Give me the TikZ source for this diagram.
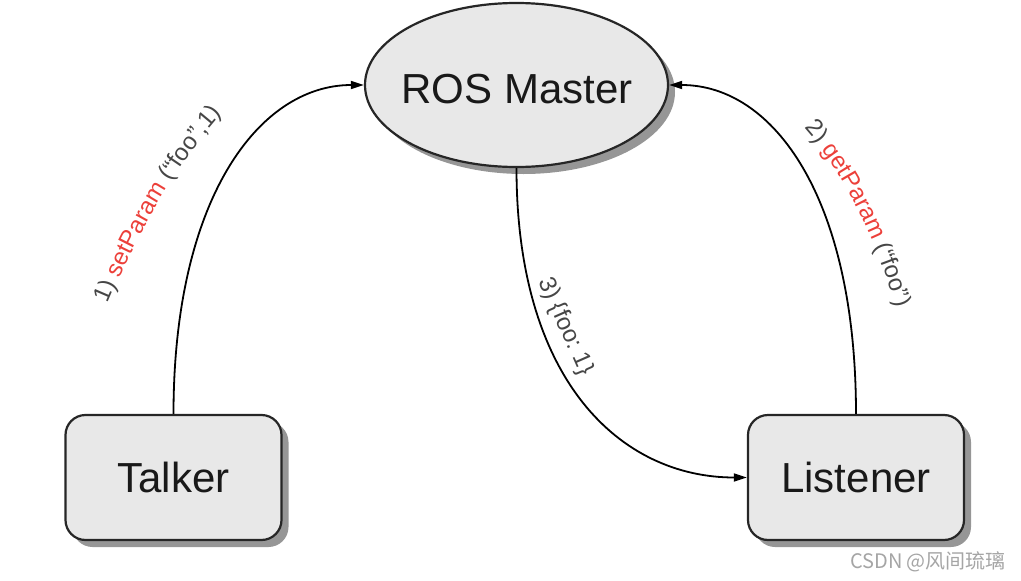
\documentclass[tikz,border=0pt]{standalone}
\usepackage{fontspec}
\setmainfont{Liberation Sans}
\newfontfamily\cjk{Noto Sans CJK SC}
\usetikzlibrary{shapes.geometric,shadows,arrows.meta,decorations.text}
\definecolor{boxfill}{RGB}{232,232,232}
\definecolor{labred}{RGB}{236,64,58}
\definecolor{labgray}{RGB}{70,70,70}
\definecolor{wmark}{RGB}{165,165,165}
\newcommand\labfont{\fontsize{24}{28}\selectfont}
\begin{document}
\begin{tikzpicture}[x=1pt,y=-1pt,
  shapebase/.style={draw=black!85, line width=2.2pt, fill=boxfill,
    drop shadow={shadow xshift=7pt, shadow yshift=-7pt, fill=black!55, opacity=0.75}},
  bigtext/.style={font=\fontsize{42}{48}\selectfont, text=black!90},
  mastershape/.style={shapebase, ellipse, minimum width=303pt, minimum height=164pt, inner sep=0pt},
  procbox/.style={shapebase, bigtext, rectangle, rounded corners=20pt, minimum width=216pt, minimum height=125pt},
  conn/.style={draw=black, line width=1.8pt, -{Triangle[length=13pt,width=8pt]}},
  textpath/.style={decorate, decoration={text along path, text align=left, text={#1}}}]
\useasboundingbox (0,0) rectangle (1021,581);

\node[mastershape] (master) at (516.5,85) {};
\node[bigtext] (mastertext) at (517,89) {ROS Master};
\node[procbox] (talker) at (173.5,477.5) {Talker};
\node[procbox] (listener) at (856,477.5) {Listener};

\draw[conn] (talker.north) .. controls +(0,-215) and +(-105,0) .. (master.west);
\draw[conn] (listener.north) .. controls +(0,-215) and +(105,0) .. (master.east);
\draw[conn] (master.south) .. controls +(0,213) and +(-126,0) .. (listener.west);

\path[textpath={|\labfont\color{labgray}|1) |\labfont\color{labred}|setParam|\labfont\color{labgray}| (“foo”,1)}]
  (108,304) .. controls (135,240) and (180,150) .. (250,85);
\path[textpath={|\labfont\color{labgray}|2) |\labfont\color{labred}|getParam|\labfont\color{labgray}| (“foo”)}]
  (804,128) .. controls (840,168) and (880,240) .. (902,330);
\path[textpath={|\labfont\color{labgray}|3) {\{}foo: 1{\}}}]
  (539,281) .. controls (555,320) and (570,350) .. (595,410);

\node[text=wmark, font=\cjk\fontsize{20}{24}\selectfont] (wm) at (928,562) {CSDN @风间琉璃};
\end{tikzpicture}
\end{document}
